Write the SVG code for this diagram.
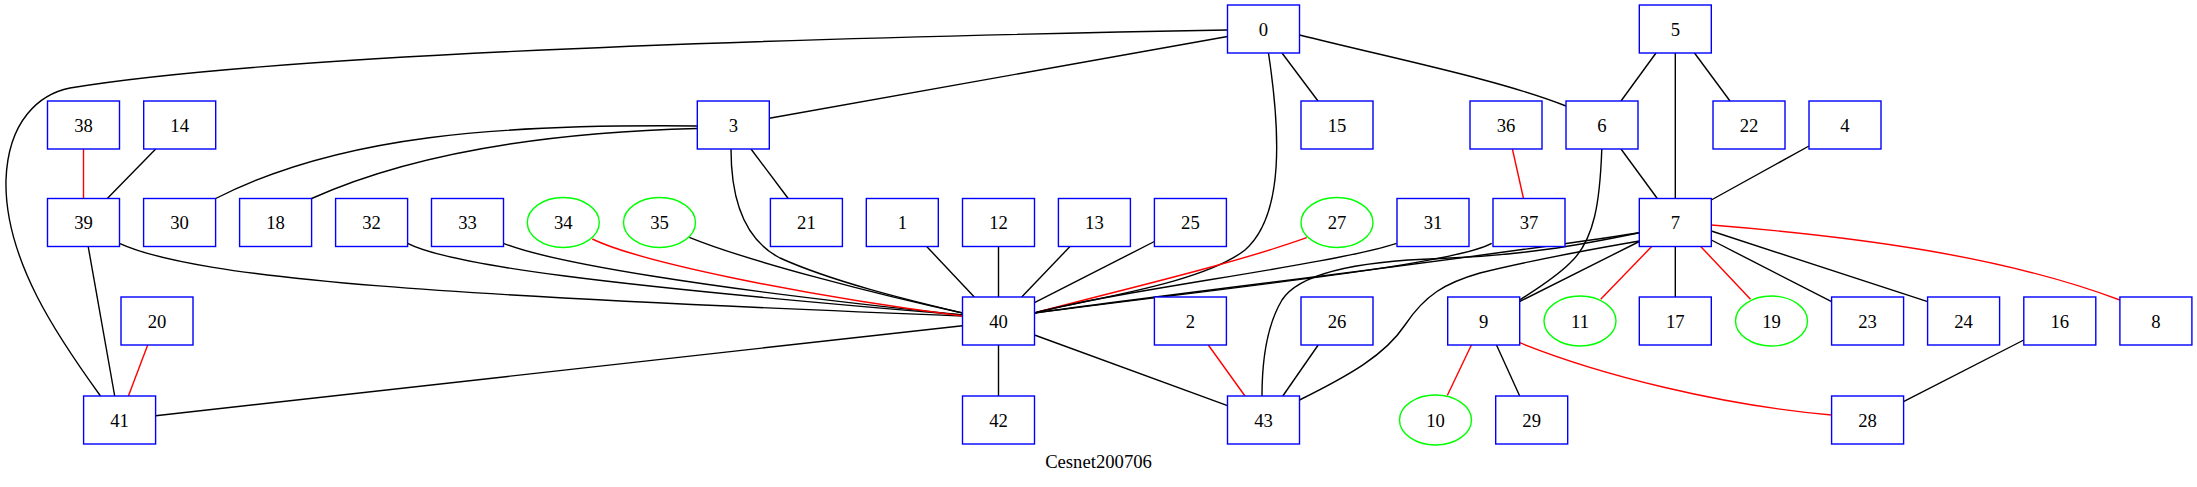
<svg xmlns="http://www.w3.org/2000/svg" width="2197" height="487" viewBox="0 0 2197 487">
<style>
.b{fill:#fff;stroke:#0000ff;stroke-width:1.4}
.e{fill:#fff;stroke:#00ff00;stroke-width:1.4}
.t{font-family:"Liberation Serif","Times New Roman",serif;font-size:18.67px;text-anchor:middle;fill:#000}
#edges path{fill:none;stroke:#000;stroke-width:1.4}
#edges path.r{stroke:#ff0000}
</style>
<rect width="2197" height="487" fill="#fff"/>
<g id="edges">
<path d="M1227,30 C900,36 300,50 70,88 C40,94 8,120 6,180 C4,260 60,340 100.5,396"/>
<path d="M1227.5,36.5 L769.3,118.3"/>
<path d="M1282,53 L1318,101"/>
<path d="M1299.5,35 C1400,60 1500,80 1566,106"/>
<path d="M1268.5,53 C1280,130 1285,215 1245,250 C1200,285 1080,300 1034.5,313"/>
<path d="M697.3,126 C500,124 340,135 215.7,198.5"/>
<path d="M697.3,128.5 C560,132 420,150 311.6,198.5"/>
<path d="M751,149 L788.2,198.5"/>
<path d="M731,149 C731,200 745,240 780,258 C840,285 930,305 962.5,313"/>
<path d="M1656,53 L1621,101"/>
<path d="M1675.3,53 L1675.3,198.5"/>
<path d="M1694.5,53 L1730,101"/>
<path d="M1621,149 L1657.3,198.5"/>
<path d="M1809,146 L1711.3,200"/>
<path class="r" d="M1512.4,149 L1523.5,198.5"/>
<path d="M1601.8,149 C1600,200 1595,240 1570,263 C1555,278 1535,290 1519.7,300"/>
<path d="M1639.3,241.5 L1519.7,301.5"/>
<path d="M1639.3,232.7 C1450,262 1200,290 1034.5,313"/>
<path d="M1639.3,232.7 C1580,245 1520,256 1440,258.5 C1360,261 1300,272 1282,300 C1264,330 1262,370 1262,396"/>
<path d="M1299.5,400 C1350,375 1385,355 1405,325 C1425,295 1445,283 1480,273 C1540,258 1600,248 1639.3,241"/>
<path class="r" d="M1651.7,246.5 L1600.7,299.3"/>
<path d="M1675.3,246.5 L1675.3,297"/>
<path class="r" d="M1700.7,246.5 L1750.5,299.3"/>
<path d="M1711.3,240 L1831.6,301.7"/>
<path d="M1711.3,231 L1927.7,301.7"/>
<path class="r" d="M1711.3,225 C1850,236 2000,255 2119.9,300"/>
<path class="r" d="M1471.4,345 L1447.3,395.5"/>
<path d="M1496.5,345 L1519.7,396"/>
<path class="r" d="M1519.7,342.7 C1600,375 1720,405 1831.6,415"/>
<path d="M2023.8,340 L1903.5,401.7"/>
<path class="r" d="M83.5,149 L83.5,198.5"/>
<path d="M155.7,149 L107.3,198.5"/>
<path d="M88.2,246.5 L114.7,396"/>
<path class="r" d="M147.7,345 L128.4,396"/>
<path d="M119.4,243.3 C200,280 450,296 962.5,316"/>
<path d="M407.6,243.3 C450,265 600,285 962.5,315"/>
<path d="M503.5,243.3 C550,262 700,288 962.5,315"/>
<path class="r" d="M592.3,239 C640,262 800,295 962.5,316"/>
<path d="M689.3,237.3 C750,262 880,295 962.5,313"/>
<path d="M926.7,246.5 L974.3,297"/>
<path d="M998.5,246.5 L998.5,297"/>
<path d="M1070,246.5 L1021.7,297"/>
<path d="M1154.4,241.5 L1034.5,302.7"/>
<path class="r" d="M1306.7,237.7 C1230,265 1120,290 1034.5,313"/>
<path d="M1396.7,243.3 C1330,265 1120,290 1034.5,313"/>
<path d="M1491.7,243.3 C1450,265 1250,285 1034.5,313"/>
<path d="M962.5,325.7 L155.6,415.7"/>
<path d="M998.5,345 L998.5,396"/>
<path d="M1034.5,335 L1227.5,405.7"/>
<path class="r" d="M1208.3,345 L1245,396"/>
<path d="M1318.2,345 L1282.8,396"/>
</g>
<g id="node0"><rect class="b" x="1227.5" y="5" width="72" height="48"/><text class="t" x="1263.5" y="35.5">0</text></g>
<g id="node5"><rect class="b" x="1639.3" y="5" width="72" height="48"/><text class="t" x="1675.3" y="35.5">5</text></g>
<g id="node38"><rect class="b" x="47.5" y="101" width="72" height="48"/><text class="t" x="83.5" y="131.5">38</text></g>
<g id="node14"><rect class="b" x="143.7" y="101" width="72" height="48"/><text class="t" x="179.7" y="131.5">14</text></g>
<g id="node3"><rect class="b" x="697.3" y="101" width="72" height="48"/><text class="t" x="733.3" y="131.5">3</text></g>
<g id="node15"><rect class="b" x="1301" y="101" width="72" height="48"/><text class="t" x="1337" y="131.5">15</text></g>
<g id="node36"><rect class="b" x="1470" y="101" width="72" height="48"/><text class="t" x="1506" y="131.5">36</text></g>
<g id="node6"><rect class="b" x="1566" y="101" width="72" height="48"/><text class="t" x="1602" y="131.5">6</text></g>
<g id="node22"><rect class="b" x="1713" y="101" width="72" height="48"/><text class="t" x="1749" y="131.5">22</text></g>
<g id="node4"><rect class="b" x="1809" y="101" width="72" height="48"/><text class="t" x="1845" y="131.5">4</text></g>
<g id="node39"><rect class="b" x="47.5" y="198.5" width="72" height="48"/><text class="t" x="83.5" y="229">39</text></g>
<g id="node30"><rect class="b" x="143.6" y="198.5" width="72" height="48"/><text class="t" x="179.6" y="229">30</text></g>
<g id="node18"><rect class="b" x="239.6" y="198.5" width="72" height="48"/><text class="t" x="275.6" y="229">18</text></g>
<g id="node32"><rect class="b" x="335.6" y="198.5" width="72" height="48"/><text class="t" x="371.6" y="229">32</text></g>
<g id="node33"><rect class="b" x="431.5" y="198.5" width="72" height="48"/><text class="t" x="467.5" y="229">33</text></g>
<g id="node34"><ellipse class="e" cx="563.3" cy="222.5" rx="36" ry="25"/><text class="t" x="563.3" y="229">34</text></g>
<g id="node35"><ellipse class="e" cx="659.5" cy="222.5" rx="36" ry="25"/><text class="t" x="659.5" y="229">35</text></g>
<g id="node21"><rect class="b" x="770.4" y="198.5" width="72" height="48"/><text class="t" x="806.4" y="229">21</text></g>
<g id="node1"><rect class="b" x="866.3" y="198.5" width="72" height="48"/><text class="t" x="902.3" y="229">1</text></g>
<g id="node12"><rect class="b" x="962.5" y="198.5" width="72" height="48"/><text class="t" x="998.5" y="229">12</text></g>
<g id="node13"><rect class="b" x="1058.4" y="198.5" width="72" height="48"/><text class="t" x="1094.4" y="229">13</text></g>
<g id="node25"><rect class="b" x="1154.4" y="198.5" width="72" height="48"/><text class="t" x="1190.4" y="229">25</text></g>
<g id="node27"><ellipse class="e" cx="1337" cy="222.5" rx="36" ry="25"/><text class="t" x="1337" y="229">27</text></g>
<g id="node31"><rect class="b" x="1397" y="198.5" width="72" height="48"/><text class="t" x="1433" y="229">31</text></g>
<g id="node37"><rect class="b" x="1493" y="198.5" width="72" height="48"/><text class="t" x="1529" y="229">37</text></g>
<g id="node7"><rect class="b" x="1639.3" y="198.5" width="72" height="48"/><text class="t" x="1675.3" y="229">7</text></g>
<g id="node20"><rect class="b" x="121" y="297" width="72" height="48"/><text class="t" x="157" y="327.5">20</text></g>
<g id="node40"><rect class="b" x="962.5" y="297" width="72" height="48"/><text class="t" x="998.5" y="327.5">40</text></g>
<g id="node2"><rect class="b" x="1154.4" y="297" width="72" height="48"/><text class="t" x="1190.4" y="327.5">2</text></g>
<g id="node26"><rect class="b" x="1301" y="297" width="72" height="48"/><text class="t" x="1337" y="327.5">26</text></g>
<g id="node9"><rect class="b" x="1447.7" y="297" width="72" height="48"/><text class="t" x="1483.7" y="327.5">9</text></g>
<g id="node11"><ellipse class="e" cx="1580" cy="321" rx="36" ry="25"/><text class="t" x="1580" y="327.5">11</text></g>
<g id="node17"><rect class="b" x="1639.3" y="297" width="72" height="48"/><text class="t" x="1675.3" y="327.5">17</text></g>
<g id="node19"><ellipse class="e" cx="1771.5" cy="321" rx="36" ry="25"/><text class="t" x="1771.5" y="327.5">19</text></g>
<g id="node23"><rect class="b" x="1831.6" y="297" width="72" height="48"/><text class="t" x="1867.6" y="327.5">23</text></g>
<g id="node24"><rect class="b" x="1927.6" y="297" width="72" height="48"/><text class="t" x="1963.6" y="327.5">24</text></g>
<g id="node16"><rect class="b" x="2023.8" y="297" width="72" height="48"/><text class="t" x="2059.8" y="327.5">16</text></g>
<g id="node8"><rect class="b" x="2119.9" y="297" width="72" height="48"/><text class="t" x="2155.9" y="327.5">8</text></g>
<g id="node41"><rect class="b" x="83.6" y="396" width="72" height="48"/><text class="t" x="119.6" y="426.5">41</text></g>
<g id="node42"><rect class="b" x="962.5" y="396" width="72" height="48"/><text class="t" x="998.5" y="426.5">42</text></g>
<g id="node43"><rect class="b" x="1227.5" y="396" width="72" height="48"/><text class="t" x="1263.5" y="426.5">43</text></g>
<g id="node10"><ellipse class="e" cx="1435.5" cy="420" rx="36" ry="25"/><text class="t" x="1435.5" y="426.5">10</text></g>
<g id="node29"><rect class="b" x="1495.7" y="396" width="72" height="48"/><text class="t" x="1531.7" y="426.5">29</text></g>
<g id="node28"><rect class="b" x="1831.6" y="396" width="72" height="48"/><text class="t" x="1867.6" y="426.5">28</text></g>
<text class="t" x="1098.5" y="467.5">Cesnet200706</text>
</svg>
